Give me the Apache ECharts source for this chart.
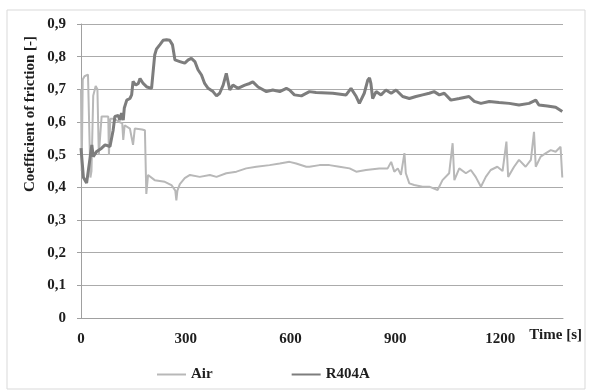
<!DOCTYPE html>
<html>
<head>
<meta charset="utf-8">
<script src="https://cdn.jsdelivr.net/npm/echarts@6/dist/echarts.min.js"></script>
<style>
  html, body { margin: 0; padding: 0; background: #fff; }
  #chart { width: 592px; height: 392px; }
</style>
</head>
<body>
<div id="chart"></div>
<script>
// time [s] and coefficient of friction
var airTime = [0, 2, 5, 10, 20, 24, 27, 30, 35, 42, 47, 51, 55, 59, 70, 78, 80, 84, 95, 110, 118, 121, 125, 140, 145, 149, 154, 175, 183, 187, 192, 211, 240, 259, 270, 273, 276, 283, 297, 312, 340, 369, 388, 416, 445, 473, 502, 540, 569, 597, 616, 645, 654, 683, 711, 740, 769, 788, 816, 854, 878, 888, 897, 907, 916, 926, 930, 940, 954, 978, 997, 1021, 1035, 1054, 1064, 1069, 1083, 1102, 1116, 1130, 1145, 1159, 1173, 1192, 1207, 1218, 1223, 1240, 1254, 1273, 1288, 1297, 1302, 1316, 1330, 1345, 1359, 1373, 1378];
var airValue = [0.70, 0.45, 0.73, 0.74, 0.745, 0.74, 0.43, 0.45, 0.68, 0.71, 0.70, 0.50, 0.50, 0.617, 0.617, 0.617, 0.50, 0.61, 0.61, 0.60, 0.596, 0.545, 0.59, 0.58, 0.58, 0.53, 0.58, 0.577, 0.575, 0.38, 0.438, 0.422, 0.417, 0.407, 0.39, 0.36, 0.39, 0.41, 0.428, 0.438, 0.432, 0.438, 0.432, 0.443, 0.448, 0.458, 0.463, 0.468, 0.473, 0.478, 0.473, 0.463, 0.463, 0.468, 0.468, 0.463, 0.458, 0.448, 0.453, 0.458, 0.458, 0.478, 0.448, 0.458, 0.438, 0.505, 0.443, 0.412, 0.407, 0.402, 0.402, 0.392, 0.422, 0.443, 0.535, 0.422, 0.458, 0.443, 0.453, 0.432, 0.402, 0.432, 0.453, 0.463, 0.45, 0.54, 0.432, 0.463, 0.484, 0.463, 0.484, 0.57, 0.463, 0.494, 0.504, 0.514, 0.509, 0.524, 0.43];

var r404aTime = [0, 7, 16, 24, 31, 35, 45, 59, 69, 83, 92, 97, 107, 111, 116, 121, 124, 131, 140, 145, 149, 157, 164, 169, 178, 189, 202, 207, 211, 216, 226, 235, 245, 254, 262, 269, 283, 297, 307, 316, 326, 335, 345, 354, 364, 378, 388, 397, 407, 416, 426, 435, 449, 469, 483, 492, 507, 531, 549, 569, 588, 597, 611, 631, 654, 673, 721, 759, 773, 788, 797, 811, 821, 826, 830, 835, 845, 859, 873, 888, 902, 921, 940, 959, 978, 997, 1011, 1026, 1040, 1059, 1083, 1111, 1126, 1145, 1169, 1197, 1226, 1254, 1283, 1302, 1311, 1335, 1359, 1378];
var r404aValue = [0.52, 0.43, 0.413, 0.475, 0.53, 0.494, 0.51, 0.52, 0.53, 0.525, 0.575, 0.617, 0.62, 0.606, 0.627, 0.606, 0.643, 0.667, 0.672, 0.683, 0.724, 0.713, 0.718, 0.733, 0.718, 0.707, 0.703, 0.703, 0.805, 0.823, 0.837, 0.85, 0.852, 0.85, 0.836, 0.79, 0.785, 0.78, 0.79, 0.795, 0.785, 0.76, 0.744, 0.718, 0.703, 0.693, 0.68, 0.688, 0.713, 0.749, 0.698, 0.713, 0.703, 0.713, 0.718, 0.723, 0.707, 0.693, 0.698, 0.693, 0.703, 0.698, 0.683, 0.68, 0.693, 0.69, 0.688, 0.683, 0.703, 0.678, 0.657, 0.688, 0.728, 0.735, 0.718, 0.672, 0.693, 0.683, 0.698, 0.688, 0.698, 0.678, 0.672, 0.678, 0.683, 0.688, 0.693, 0.683, 0.688, 0.667, 0.672, 0.678, 0.663, 0.657, 0.663, 0.66, 0.657, 0.652, 0.657, 0.667, 0.652, 0.649, 0.645, 0.632];

var seriesNames = ['Air', 'R404A'];

function pairs(t, v) {
  var out = [];
  for (var i = 0; i < t.length; i++) out.push([t[i], v[i]]);
  return out;
}

var font = 'Liberation Serif';
var txt = '#1e1e1e';
var chart = echarts.init(document.getElementById('chart'));
chart.setOption({
  animation: false,
  backgroundColor: '#fff',
  grid: { left: 81, top: 24, right: 29, bottom: 74 },
  graphic: [
    {
      type: 'rect',
      shape: { x: 7, y: 10, width: 578, height: 379 },
      style: { fill: 'none', stroke: '#d9d9d9', lineWidth: 1 }
    },
    {
      type: 'text',
      x: 30, y: 114,
      rotation: Math.PI / 2,
      style: {
        text: 'Coefficient of friction [-]',
        fontFamily: font, fontWeight: 'bold', fontSize: 15,
        fill: txt, align: 'center', verticalAlign: 'middle'
      }
    }
  ],
  legend: {
    data: [
      { name: 'Air', itemStyle: { color: '#b8b8b8' } },
      { name: 'R404A', itemStyle: { color: '#7d7d7d' } }
    ],
    icon: 'rect',
    left: 152, top: 362,
    itemWidth: 29, itemHeight: 2, itemGap: 79,
    textStyle: { fontFamily: font, fontWeight: 'bold', fontSize: 15, color: txt }
  },
  xAxis: {
    type: 'value',
    min: 0, max: 1380, interval: 300,
    name: 'Time [s]',
    nameLocation: 'end',
    nameGap: 19,
    nameTextStyle: {
      fontFamily: font, fontWeight: 'bold', fontSize: 15, color: txt,
      align: 'right', verticalAlign: 'top', padding: [10, 0, 0, 0]
    },
    axisLine: { lineStyle: { color: '#a0a0a0' } },
    axisTick: { show: false },
    splitLine: { show: false },
    axisLabel: {
      margin: 14,
      fontFamily: font, fontWeight: 'bold', fontSize: 15, color: txt,
      showMaxLabel: false,
      formatter: function (v) { return String(v); }
    }
  },
  yAxis: {
    type: 'value',
    min: 0, max: 0.9, interval: 0.1,
    axisLine: { show: true, lineStyle: { color: '#a0a0a0' } },
    axisTick: { show: true, length: 4, lineStyle: { color: '#a0a0a0' } },
    splitLine: { lineStyle: { color: '#ababab', width: 1 } },
    axisLabel: {
      margin: 15,
      fontFamily: font, fontWeight: 'bold', fontSize: 15, color: txt,
      formatter: function (v) { return v === 0 ? '0' : v.toFixed(1).replace('.', ','); }
    }
  },
  series: [
    {
      name: seriesNames[0],
      type: 'line',
      data: pairs(airTime, airValue),
      showSymbol: false,
      lineStyle: { color: '#b8b8b8', width: 2 },
      itemStyle: { color: '#b8b8b8' },
      z: 2
    },
    {
      name: seriesNames[1],
      type: 'line',
      data: pairs(r404aTime, r404aValue),
      showSymbol: false,
      lineStyle: { color: '#7d7d7d', width: 3 },
      itemStyle: { color: '#7d7d7d' },
      z: 3
    }
  ]
});
</script>
</body>
</html>
